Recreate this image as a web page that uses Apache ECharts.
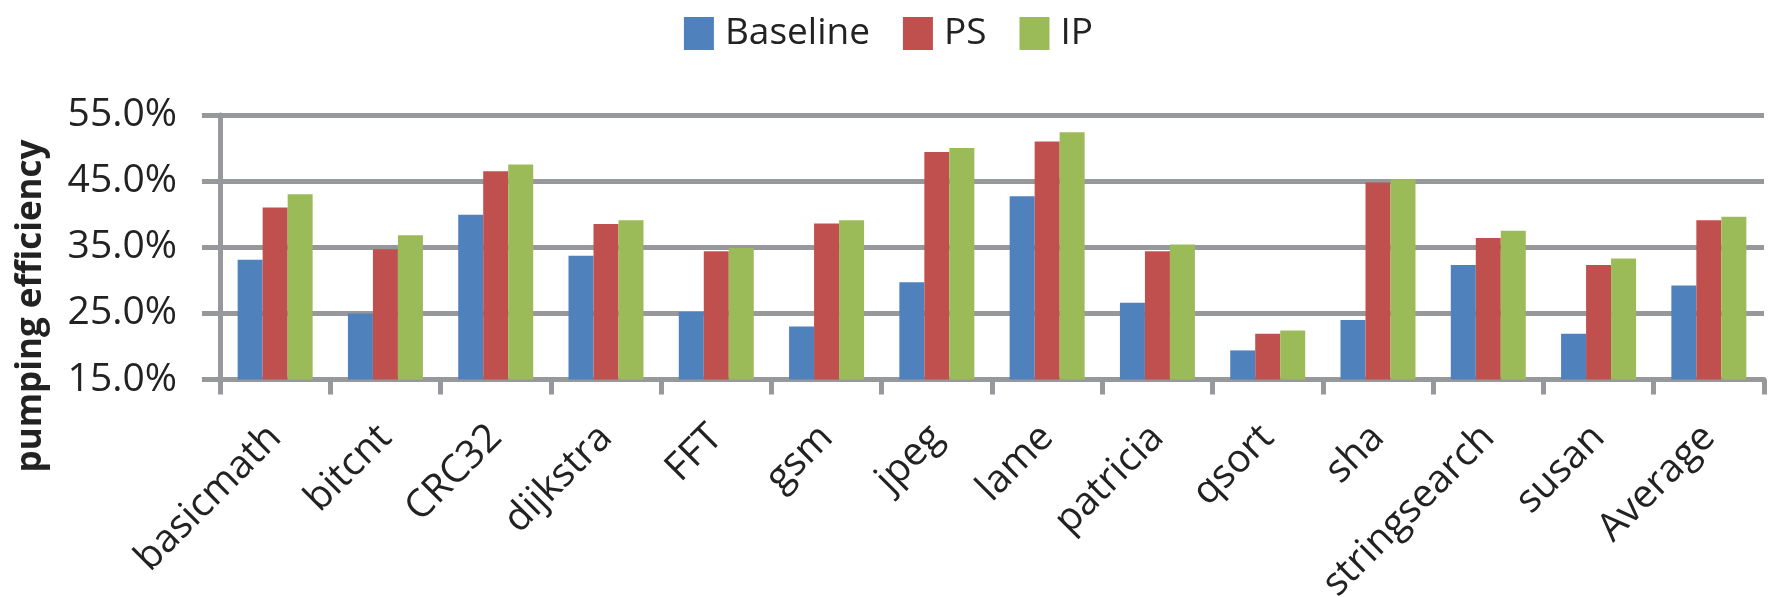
<!DOCTYPE html>
<html>
<head>
<meta charset="utf-8">
<script src="https://cdn.jsdelivr.net/npm/echarts@6/dist/echarts.min.js"></script>
<style>
html,body{margin:0;padding:0;background:#fff;}
#chart{width:1777px;height:597px;}
</style>
</head>
<body>
<div id="chart"></div>
<script>
var categories = ['basicmath','bitcnt','CRC32','dijkstra','FFT','gsm','jpeg','lame','patricia','qsort','sha','stringsearch','susan','Average'];
var baseline = [33.1, 25.0, 39.9, 33.7, 25.2, 23.0, 29.7, 42.7, 26.6, 19.4, 24.0, 32.3, 21.9, 29.2];
var ps       = [41.0, 34.7, 46.5, 38.5, 34.4, 38.6, 49.4, 51.0, 34.4, 21.9, 44.8, 36.4, 32.3, 39.1];
var ip       = [43.0, 36.8, 47.5, 39.1, 34.9, 39.1, 50.0, 52.4, 35.4, 22.4, 45.3, 37.5, 33.3, 39.6];
var seriesNames = ['Baseline','PS','IP'];
var yAxisTitle = 'pumping efficiency';

var gray = '#97989c';
var font = 'Open Sans';
var chart = echarts.init(document.getElementById('chart'), null, {renderer:'canvas'});
chart.setOption({
  animation:false,
  backgroundColor:'#fff',
  color:['#4f81bd','#c0504d','#9bbb59'],
  legend:{
    top:10, left:'center',
    itemWidth:30, itemHeight:33, itemGap:33,
    icon:'rect',
    textStyle:{fontFamily:font, fontSize:37, color:'#222', padding:[0,0,0,6]},
    data:seriesNames
  },
  grid:{left:220, right:13, top:115, bottom:217.5, containLabel:false, outerBoundsMode:'none'},
  xAxis:{
    type:'category', data:categories,
    axisLine:{show:true, lineStyle:{color:gray, width:5}},
    axisTick:{show:true, length:15, lineStyle:{color:gray, width:5}},
    axisLabel:{rotate:45, margin:52, fontFamily:font, fontSize:39, color:'#222', interval:0}
  },
  yAxis:{
    type:'value', min:15, max:55, interval:10,
    axisLine:{show:true, lineStyle:{color:gray, width:5}},
    axisTick:{show:true, length:18, lineStyle:{color:gray, width:5}},
    splitLine:{show:true, lineStyle:{color:gray, width:5}},
    axisLabel:{margin:43, fontFamily:font, fontSize:39, color:'#222',
      formatter:function(v){return v.toFixed(1)+'%';}}
  },
  graphic:[{
    type:'text', x:31, y:306, rotation:Math.PI/2,
    style:{text:yAxisTitle, fontFamily:font, fontSize:35, fontWeight:'bold', fill:'#222',
      textAlign:'center', textVerticalAlign:'middle'}
  }],
  series:[
    {name:seriesNames[0], type:'bar', data:baseline, barGap:'0%', barCategoryGap:'32%'},
    {name:seriesNames[1], type:'bar', data:ps, barGap:'0%', barCategoryGap:'32%'},
    {name:seriesNames[2], type:'bar', data:ip, barGap:'0%', barCategoryGap:'32%'}
  ]
});
</script>
</body>
</html>
